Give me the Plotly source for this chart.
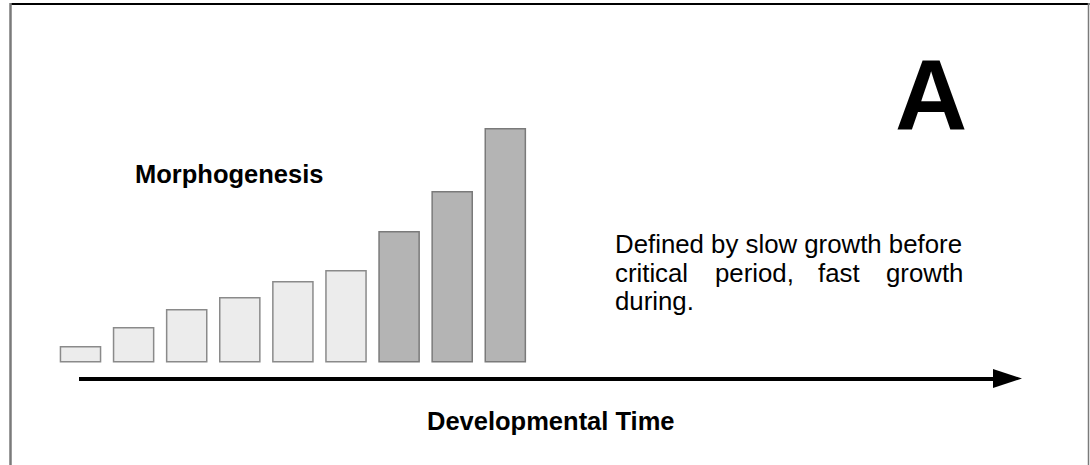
import plotly.graph_objects as go

# ---- data ----
stages = [1, 2, 3, 4, 5, 6, 7, 8, 9]
growth = [15, 34, 52, 64, 80, 91, 130, 170, 233]
phase = ["before", "before", "before", "before", "before", "before",
         "during", "during", "during"]

fill_colors = {"before": "#ececec", "during": "#b4b4b4"}
line_colors = {"before": "#8a8a8a", "during": "#7a7a7a"}

W, H = 1090, 465

fig = go.Figure()
fig.add_trace(go.Bar(
    x=stages, y=growth, width=0.755,
    marker=dict(color=[fill_colors[p] for p in phase],
                line=dict(color=[line_colors[p] for p in phase], width=1.5)),
    hoverinfo="skip", showlegend=False,
))

# axis mapping: centre of bar 1 at px 80.5, spacing 53.1 px; baseline at px 361.7 from top
px0, step = 27.4, 53.1
fig.update_xaxes(range=[(0 - px0) / step, (W - px0) / step], visible=False, fixedrange=True)
base_from_bottom = H - 361.7
fig.update_yaxes(range=[-base_from_bottom, H - base_from_bottom], visible=False, fixedrange=True)

def px(x):
    return x / W

def py(y):
    return 1 - y / H

shapes = []
# frame
shapes.append(dict(type="line", xref="paper", yref="paper", x0=px(10), x1=px(1089.5),
                   y0=py(4), y1=py(4), line=dict(color="#000000", width=2)))
shapes.append(dict(type="line", xref="paper", yref="paper", x0=px(10.5), x1=px(10.5),
                   y0=py(3), y1=py(465), line=dict(color="#7a7a7a", width=2.5)))
shapes.append(dict(type="line", xref="paper", yref="paper", x0=px(1088.5), x1=px(1088.5),
                   y0=py(3), y1=py(465), line=dict(color="#7a7a7a", width=1.5)))
# time arrow
shapes.append(dict(type="line", xref="paper", yref="paper", x0=px(79), x1=px(996),
                   y0=py(379), y1=py(379), line=dict(color="#000000", width=4)))
shapes.append(dict(type="path", xref="paper", yref="paper",
                   path=f"M {px(993)} {py(369)} L {px(1022)} {py(378.5)} L {px(993)} {py(388)} Z",
                   fillcolor="#000000", line=dict(color="#000000", width=0)))

FONT = "Liberation Sans, Arial, sans-serif"
ann = []
def text(t, x, y, size, xanchor="left", bold=False):
    ann.append(dict(text=f"<b>{t}</b>" if bold else t, xref="paper", yref="paper",
                    x=px(x), y=py(y), xanchor=xanchor, yanchor="middle", showarrow=False,
                    font=dict(family=FONT, size=size, color="#000000")))

text("Morphogenesis", 133, 174, 25.5, bold=True)
text("A", 931, 95, 100, xanchor="center", bold=True)
text("Developmental Time", 425, 421, 25.5, bold=True)
text("Defined by slow growth before", 613, 244, 25.8)
text("critical", 613, 273, 25.8)
text("period,", 713, 273, 25.8)
text("fast", 816, 273, 25.8)
text("growth", 965, 273, 25.8, xanchor="right")
text("during.", 613, 301, 25.8)

fig.update_layout(width=W, height=H, margin=dict(l=0, r=0, t=0, b=0),
                  paper_bgcolor="white", plot_bgcolor="white",
                  shapes=shapes, annotations=ann, bargap=0)

fig.write_html("out.html", config={"displayModeBar": False, "staticPlot": True},
               post_script="document.body.style.margin='0px';document.body.style.overflow='hidden';")
